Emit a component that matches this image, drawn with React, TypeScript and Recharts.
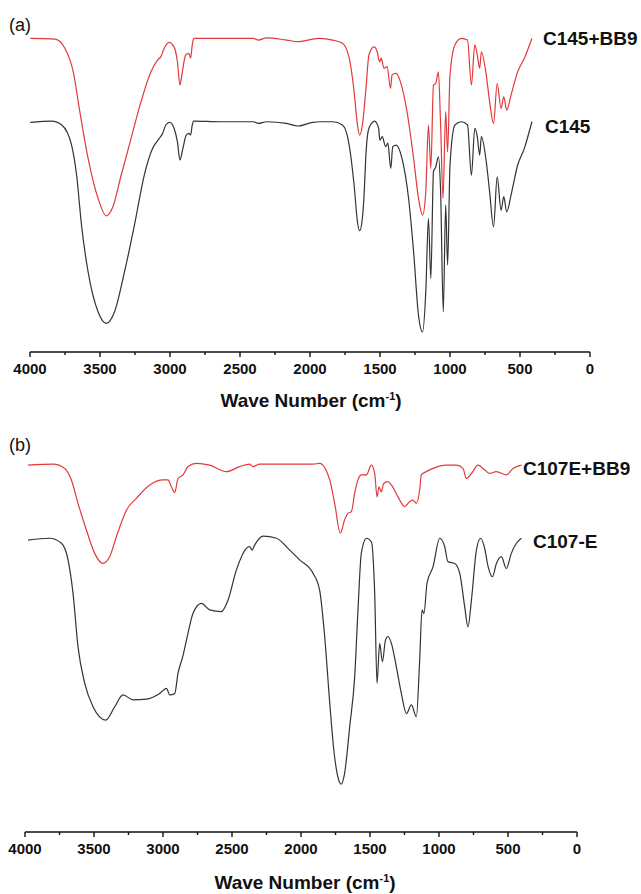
import { LineChart, Line, XAxis, YAxis } from 'recharts';

// wave number ticks, labels on every 500
const waveTicks = [4000, 3750, 3500, 3250, 3000, 2750, 2500, 2250, 2000, 1750, 1500, 1250, 1000, 750, 500, 250, 0];

// panel (a): [wave number, transmittance a.u.]
const c145Bb9: [number, number][] = [
  [3998, 97.4], [3821, 97.2], [3750, 94.3], [3691, 87.1], [3644, 74.8], [3585, 60.4], [3514, 48.1], [3455, 42.7],
  [3408, 45.5], [3349, 55.2], [3278, 66.6], [3207, 77.9], [3136, 87.1], [3089, 90.7], [3065, 91.8], [3042, 94.3],
  [3007, 96.2], [2971, 94.8], [2947, 90.2], [2929, 83.0], [2912, 87.1], [2888, 92.3], [2865, 92.8], [2853, 91.3],
  [2841, 95.4], [2830, 97.4], [2641, 97.4], [2405, 97.4], [2369, 96.9], [2310, 97.6], [2168, 96.9], [2086, 96.4],
  [1980, 97.2], [1933, 97.4], [1838, 96.9], [1768, 95.9], [1720, 91.3], [1685, 81.0], [1661, 70.7], [1645, 67.6],
  [1626, 70.7], [1602, 81.0], [1579, 92.3], [1543, 94.8], [1520, 93.3], [1503, 90.2], [1491, 91.3], [1472, 88.2],
  [1449, 88.7], [1425, 82.0], [1414, 86.1], [1385, 86.6], [1354, 84.0], [1307, 74.8], [1260, 60.4], [1225, 48.1],
  [1196, 42.9], [1173, 50.1], [1154, 70.7], [1137, 57.3], [1118, 83.0], [1102, 83.5], [1083, 87.1], [1067, 70.7],
  [1050, 48.1], [1031, 74.8], [1017, 62.4], [1000, 86.1], [965, 95.4], [918, 97.4], [875, 96.9], [847, 83.0],
  [823, 95.4], [805, 92.3], [788, 88.2], [776, 93.3], [741, 86.1], [717, 77.9], [689, 71.2], [663, 83.5],
  [635, 75.8], [616, 79.4], [595, 75.3], [564, 79.9], [517, 87.1], [469, 91.3], [415, 97.4],
];

const c145: [number, number][] = [
  [3998, 71.5], [3844, 71.9], [3773, 70.7], [3703, 64.5], [3667, 55.2], [3632, 39.8], [3585, 25.4], [3514, 13.1],
  [3455, 9.5], [3396, 13.1], [3325, 25.4], [3254, 39.8], [3184, 55.2], [3124, 63.5], [3077, 66.6], [3053, 68.1],
  [3030, 70.7], [3002, 71.5], [2971, 69.7], [2947, 65.5], [2929, 59.9], [2908, 63.5], [2884, 67.6], [2865, 68.1],
  [2853, 67.6], [2841, 70.7], [2830, 71.9], [2641, 71.7], [2405, 71.7], [2369, 71.2], [2310, 71.7], [2168, 71.2],
  [2086, 70.4], [1980, 71.5], [1933, 71.7], [1838, 71.7], [1768, 70.7], [1720, 64.5], [1685, 52.2], [1661, 40.8],
  [1645, 38.1], [1626, 41.9], [1612, 50.6], [1602, 60.4], [1579, 69.7], [1538, 71.9], [1510, 69.7], [1501, 66.0],
  [1484, 67.1], [1460, 64.0], [1444, 65.1], [1423, 57.3], [1409, 64.0], [1385, 64.5], [1343, 60.4], [1296, 48.1],
  [1260, 31.6], [1225, 12.0], [1196, 6.9], [1173, 19.2], [1154, 41.9], [1137, 23.4], [1118, 56.3], [1102, 57.7],
  [1083, 60.9], [1067, 50.1], [1048, 13.1], [1031, 46.0], [1017, 27.5], [1000, 58.3], [965, 70.7], [918, 71.7],
  [875, 70.7], [847, 55.2], [823, 69.7], [805, 67.1], [788, 61.4], [776, 67.1], [741, 59.4], [717, 50.1],
  [689, 39.3], [663, 54.7], [635, 44.4], [616, 48.6], [595, 43.9], [564, 49.1], [517, 58.3], [469, 63.5], [415, 71.7],
];

// panel (b)
const c107eBb9: [number, number][] = [
  [3978, 101.9], [3797, 102.2], [3712, 101.0], [3664, 97.8], [3616, 91.3], [3555, 83.9], [3495, 77.4], [3435, 74.6],
  [3386, 76.5], [3338, 82.0], [3265, 89.4], [3193, 92.7], [3096, 96.4], [3000, 97.8], [2964, 97.8], [2939, 95.9],
  [2915, 94.3], [2891, 98.2], [2855, 99.2], [2819, 101.5], [2758, 102.4], [2662, 101.9], [2541, 100.1], [2444, 101.5],
  [2372, 102.2], [2348, 101.5], [2299, 102.2], [2106, 102.2], [1913, 102.2], [1865, 102.4], [1792, 97.8], [1756, 91.3],
  [1715, 83.0], [1684, 86.7], [1660, 88.5], [1635, 89.0], [1611, 94.1], [1587, 97.8], [1563, 99.2], [1526, 99.2],
  [1490, 101.9], [1466, 99.6], [1449, 93.1], [1435, 95.9], [1418, 94.5], [1401, 96.8], [1370, 97.3], [1345, 96.4],
  [1297, 93.1], [1249, 90.4], [1212, 91.8], [1189, 92.2], [1164, 91.3], [1140, 95.0], [1128, 99.2], [1092, 100.1],
  [1043, 101.0], [947, 101.9], [874, 101.9], [826, 101.0], [802, 98.2], [765, 99.6], [717, 101.9], [669, 100.6],
  [633, 99.6], [584, 100.1], [512, 99.2], [464, 101.0], [403, 101.9],
];

const c107e: [number, number][] = [
  [3978, 81.1], [3821, 81.6], [3736, 80.2], [3688, 75.6], [3652, 66.3], [3616, 51.5], [3567, 41.3], [3507, 34.8],
  [3415, 31.1], [3350, 34.8], [3290, 38.1], [3217, 36.7], [3120, 36.9], [3024, 38.5], [2975, 39.9], [2951, 38.1],
  [2915, 38.5], [2891, 44.1], [2855, 49.0], [2819, 55.2], [2783, 60.7], [2722, 63.5], [2662, 61.7], [2577, 61.2],
  [2529, 64.4], [2468, 72.8], [2396, 78.8], [2372, 79.3], [2355, 78.3], [2336, 79.7], [2275, 82.2], [2178, 81.6],
  [2082, 78.3], [2010, 75.6], [1913, 71.9], [1865, 67.2], [1830, 55.0], [1790, 35.0], [1760, 22.0], [1732, 15.2],
  [1708, 13.3], [1684, 16.3], [1647, 29.3], [1611, 43.1], [1587, 61.7], [1563, 77.4], [1526, 81.6], [1490, 80.6],
  [1466, 66.3], [1449, 41.3], [1430, 52.4], [1410, 47.3], [1388, 53.3], [1370, 54.3], [1345, 52.4], [1309, 45.9],
  [1273, 38.5], [1236, 32.9], [1200, 35.3], [1164, 32.0], [1140, 47.8], [1123, 61.7], [1109, 60.7], [1087, 69.1],
  [1043, 73.7], [995, 81.6], [959, 79.3], [935, 75.1], [886, 74.6], [850, 71.9], [814, 62.6], [790, 57.0],
  [765, 64.4], [729, 78.3], [698, 81.6], [669, 78.8], [644, 73.7], [613, 70.9], [584, 74.6], [548, 76.5],
  [512, 73.2], [476, 77.4], [439, 80.2], [403, 81.6],
];

const RED = '#e2393b';
const DARK = '#333333';
const FONT = '"Liberation Sans", Arial, Helvetica, sans-serif';

const toPoints = (rows: [number, number][]) => rows.map(([w, t]) => ({ w, t }));

const WaveTick = (props: any) => {
  const { x, y, payload } = props;
  const major = payload.value % 500 === 0;
  return (
    <g>
      <line x1={x} y1={y} x2={x} y2={y + (major ? 5 : 3)} stroke="#111" strokeWidth={1.4} />
      {major && (
        <text x={x} y={y + 22} textAnchor="middle" fontSize={15} fontWeight="bold" fill="#111" fontFamily={FONT}>
          {payload.value}
        </text>
      )}
    </g>
  );
};

const Text = ({ left, top, size, bold, children }: any) => (
  <div
    style={{
      position: 'absolute',
      left,
      top,
      fontSize: size,
      fontWeight: bold ? 'bold' : 'normal',
      lineHeight: 1,
      fontFamily: FONT,
      color: '#111',
      whiteSpace: 'nowrap',
    }}
  >
    {children}
  </div>
);

const Title = ({ center, top }: { center: number; top: number }) => (
  <div
    style={{
      position: 'absolute',
      left: center - 150,
      width: 300,
      top,
      height: 20,
      textAlign: 'center',
      fontSize: 19,
      fontWeight: 'bold',
      lineHeight: '20px',
      fontFamily: FONT,
      color: '#111',
    }}
  >
    Wave Number (cm<span style={{ fontSize: 11, position: 'relative', top: -7 }}>-1</span>)
  </div>
);

const Panel = ({
  top,
  height,
  margin,
  domain,
  upper,
  lower,
}: {
  top: number;
  height: number;
  margin: { top: number; right: number; left: number; bottom: number };
  domain: [number, number];
  upper: [number, number][];
  lower: [number, number][];
}) => (
  <div style={{ position: 'absolute', left: 0, top }}>
    <LineChart width={641} height={height} margin={margin}>
      <XAxis
        type="number"
        dataKey="w"
        domain={[0, 4000]}
        reversed
        ticks={waveTicks}
        interval={0}
        tickSize={0}
        tickMargin={0}
        tickLine={false}
        axisLine={{ stroke: '#111', strokeWidth: 1.4 }}
        tick={<WaveTick />}
        height={50}
      />
      <YAxis hide type="number" domain={domain} allowDataOverflow />
      <Line
        data={toPoints(upper)}
        dataKey="t"
        type="monotone"
        stroke={RED}
        strokeWidth={1.2}
        dot={false}
        isAnimationActive={false}
      />
      <Line
        data={toPoints(lower)}
        dataKey="t"
        type="monotone"
        stroke={DARK}
        strokeWidth={1.2}
        dot={false}
        isAnimationActive={false}
      />
    </LineChart>
  </div>
);

export default function App() {
  return (
    <div style={{ position: 'relative', width: 641, height: 894, background: '#fff', overflow: 'hidden' }}>
      <style>{'body { margin: 0; }'}</style>
      <Panel
        top={0}
        height={402}
        margin={{ top: 30, right: 51, left: 30, bottom: 0 }}
        domain={[0.7, 100]}
        upper={c145Bb9}
        lower={c145}
      />
      <Panel
        top={420}
        height={462}
        margin={{ top: 34, right: 64, left: 25, bottom: 0 }}
        domain={[0, 105]}
        upper={c107eBb9}
        lower={c107e}
      />
      <Text left={9} top={15.5} size={18}>(a)</Text>
      <Text left={543} top={29.2} size={19} bold>C145+BB9</Text>
      <Text left={545} top={116.7} size={19} bold>C145</Text>
      <Text left={9} top={435.5} size={18}>(b)</Text>
      <Text left={523} top={458.7} size={19} bold>C107E+BB9</Text>
      <Text left={533} top={531.7} size={19} bold>C107-E</Text>
      <Title center={311} top={391} />
      <Title center={305} top={873} />
    </div>
  );
}
